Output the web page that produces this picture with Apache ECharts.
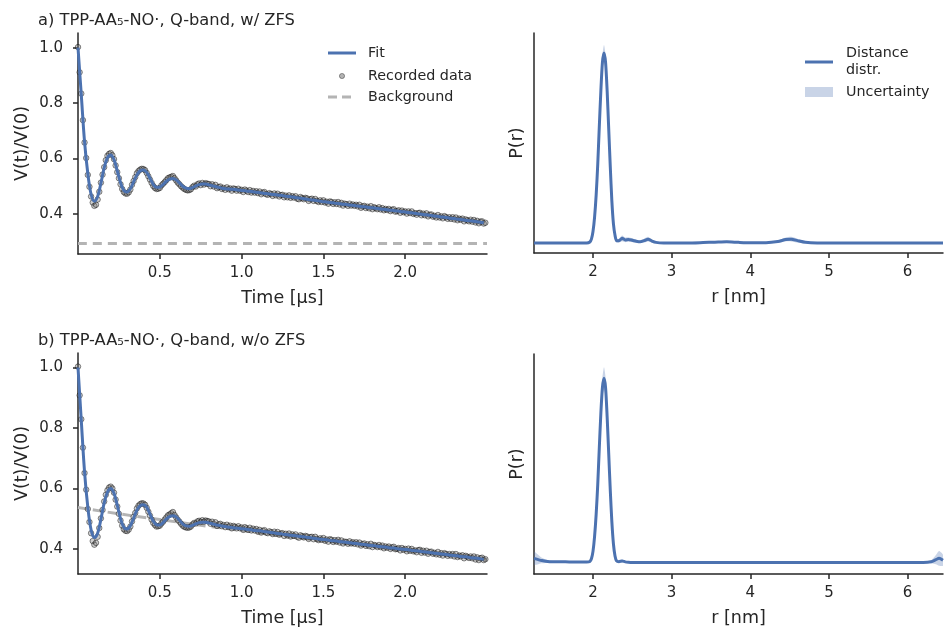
<!DOCTYPE html>
<html>
<head>
<meta charset="utf-8">
<script src="https://cdn.jsdelivr.net/npm/echarts@6/dist/echarts.min.js"></script>
<style>html,body{margin:0;padding:0;background:#fff}#c{width:944px;height:630px}</style>
</head>
<body>
<div id="c"></div>
<script>
// ---------- data ----------
const titles = ['a) TPP-AA\u2085-NO\u00b7, Q-band, w/ ZFS', 'b) TPP-AA\u2085-NO\u00b7, Q-band, w/o ZFS'];
const timeTicks = [0.5, 1.0, 1.5, 2.0];
const vTicks = [0.4, 0.6, 0.8, 1.0];
const rTicks = [2, 3, 4, 5, 6];

// recorded time grid (µs)
const tData = [
0.00,0.01,0.02,0.03,0.04,0.05,0.06,0.07,0.08,0.09,
0.10,0.11,0.12,0.13,0.14,0.15,0.16,0.17,0.18,0.19,
0.20,0.21,0.22,0.23,0.24,0.25,0.26,0.27,0.28,0.29,
0.30,0.31,0.32,0.33,0.34,0.35,0.36,0.37,0.38,0.39,
0.40,0.41,0.42,0.43,0.44,0.45,0.46,0.47,0.48,0.49,
0.50,0.51,0.52,0.53,0.54,0.55,0.56,0.57,0.58,0.59,
0.60,0.61,0.62,0.63,0.64,0.65,0.66,0.67,0.68,0.69,
0.70,0.71,0.72,0.73,0.74,0.75,0.76,0.77,0.78,0.79,
0.80,0.81,0.82,0.83,0.84,0.85,0.86,0.87,0.88,0.89,
0.90,0.91,0.92,0.93,0.94,0.95,0.96,0.97,0.98,0.99,
1.00,1.01,1.02,1.03,1.04,1.05,1.06,1.07,1.08,1.09,
1.10,1.11,1.12,1.13,1.14,1.15,1.16,1.17,1.18,1.19,
1.20,1.21,1.22,1.23,1.24,1.25,1.26,1.27,1.28,1.29,
1.30,1.31,1.32,1.33,1.34,1.35,1.36,1.37,1.38,1.39,
1.40,1.41,1.42,1.43,1.44,1.45,1.46,1.47,1.48,1.49,
1.50,1.51,1.52,1.53,1.54,1.55,1.56,1.57,1.58,1.59,
1.60,1.61,1.62,1.63,1.64,1.65,1.66,1.67,1.68,1.69,
1.70,1.71,1.72,1.73,1.74,1.75,1.76,1.77,1.78,1.79,
1.80,1.81,1.82,1.83,1.84,1.85,1.86,1.87,1.88,1.89,
1.90,1.91,1.92,1.93,1.94,1.95,1.96,1.97,1.98,1.99,
2.00,2.01,2.02,2.03,2.04,2.05,2.06,2.07,2.08,2.09,
2.10,2.11,2.12,2.13,2.14,2.15,2.16,2.17,2.18,2.19,
2.20,2.21,2.22,2.23,2.24,2.25,2.26,2.27,2.28,2.29,
2.30,2.31,2.32,2.33,2.34,2.35,2.36,2.37,2.38,2.39,
2.40,2.41,2.42,2.43,2.44,2.45,2.46,2.47,2.48,2.49];

const dataA = [
1.002,0.911,0.834,0.738,0.657,0.601,0.540,0.497,0.462,0.440,
0.428,0.432,0.451,0.479,0.512,0.541,0.568,0.593,0.609,0.616,
0.619,0.611,0.597,0.574,0.550,0.528,0.506,0.489,0.478,0.473,
0.472,0.477,0.487,0.504,0.518,0.532,0.546,0.554,0.559,0.562,
0.561,0.557,0.547,0.535,0.523,0.511,0.500,0.493,0.489,0.490,
0.493,0.502,0.508,0.514,0.521,0.528,0.531,0.533,0.536,0.528,
0.520,0.512,0.506,0.499,0.494,0.489,0.486,0.484,0.485,0.488,
0.496,0.501,0.498,0.506,0.509,0.503,0.511,0.505,0.510,0.508,
0.507,0.499,0.506,0.498,0.504,0.492,0.496,0.498,0.489,0.493,
0.486,0.495,0.488,0.491,0.483,0.491,0.489,0.483,0.490,0.483,
0.486,0.478,0.487,0.483,0.478,0.485,0.476,0.482,0.476,0.481,
0.474,0.480,0.470,0.476,0.478,0.470,0.468,0.474,0.471,0.464,
0.473,0.466,0.472,0.462,0.467,0.468,0.459,0.465,0.459,0.466,
0.457,0.463,0.458,0.463,0.454,0.452,0.460,0.456,0.452,0.457,
0.455,0.446,0.452,0.454,0.446,0.453,0.446,0.442,0.448,0.442,
0.448,0.440,0.443,0.436,0.444,0.442,0.435,0.441,0.435,0.442,
0.433,0.439,0.429,0.436,0.434,0.428,0.436,0.429,0.433,0.428,
0.432,0.426,0.432,0.421,0.426,0.428,0.420,0.425,0.419,0.427,
0.416,0.423,0.420,0.416,0.423,0.415,0.420,0.412,0.417,0.413,
0.417,0.409,0.414,0.416,0.407,0.409,0.412,0.403,0.411,0.405,
0.408,0.400,0.408,0.402,0.408,0.399,0.402,0.396,0.402,0.403,
0.394,0.400,0.394,0.401,0.390,0.396,0.397,0.389,0.392,0.386,
0.395,0.386,0.390,0.383,0.391,0.387,0.381,0.387,0.381,0.387,
0.379,0.386,0.376,0.382,0.378,0.382,0.372,0.379,0.376,0.372,
0.378,0.371,0.377,0.368,0.374,0.365,0.371,0.372,0.364,0.367];

const dataB = [
1.003,0.908,0.829,0.735,0.651,0.596,0.532,0.489,0.452,0.426,
0.414,0.420,0.440,0.469,0.501,0.529,0.557,0.579,0.594,0.603,
0.606,0.600,0.586,0.563,0.540,0.516,0.494,0.477,0.465,0.460,
0.459,0.464,0.474,0.491,0.506,0.519,0.534,0.543,0.548,0.551,
0.550,0.546,0.536,0.523,0.510,0.497,0.486,0.479,0.474,0.475,
0.477,0.484,0.490,0.497,0.504,0.511,0.514,0.518,0.522,0.512,
0.504,0.496,0.490,0.483,0.477,0.473,0.471,0.470,0.471,0.474,
0.481,0.486,0.484,0.491,0.493,0.489,0.495,0.490,0.494,0.492,
0.491,0.483,0.490,0.482,0.488,0.476,0.481,0.483,0.475,0.479,
0.472,0.480,0.473,0.477,0.468,0.476,0.473,0.468,0.475,0.468,
0.471,0.463,0.472,0.468,0.463,0.470,0.461,0.467,0.461,0.466,
0.457,0.463,0.454,0.460,0.462,0.454,0.452,0.458,0.455,0.449,
0.457,0.450,0.456,0.447,0.451,0.452,0.443,0.450,0.444,0.451,
0.441,0.448,0.443,0.448,0.440,0.437,0.445,0.442,0.438,0.443,
0.441,0.433,0.439,0.440,0.432,0.440,0.433,0.429,0.435,0.430,
0.436,0.427,0.431,0.424,0.432,0.430,0.423,0.429,0.424,0.430,
0.421,0.428,0.418,0.424,0.423,0.417,0.425,0.418,0.422,0.417,
0.422,0.415,0.421,0.411,0.416,0.418,0.410,0.415,0.409,0.417,
0.406,0.413,0.411,0.406,0.413,0.406,0.411,0.402,0.408,0.404,
0.408,0.400,0.405,0.407,0.399,0.400,0.403,0.395,0.403,0.397,
0.400,0.392,0.401,0.394,0.400,0.392,0.395,0.389,0.396,0.397,
0.387,0.394,0.388,0.394,0.384,0.390,0.391,0.384,0.387,0.382,
0.390,0.381,0.386,0.378,0.386,0.383,0.377,0.383,0.378,0.383,
0.375,0.383,0.373,0.378,0.375,0.379,0.369,0.377,0.374,0.370,
0.375,0.369,0.375,0.365,0.372,0.363,0.369,0.371,0.363,0.366];

// fitted traces (µs grid of the fit)
const tFit = [
0.00,0.02,0.04,0.06,0.08,0.10,0.12,0.14,0.16,0.18,
0.20,0.22,0.24,0.26,0.28,0.30,0.32,0.34,0.36,0.38,
0.40,0.42,0.44,0.46,0.48,0.50,0.52,0.54,0.56,0.58,
0.60,0.62,0.64,0.66,0.68,0.70,0.72,0.74,0.76,0.78,
0.80,0.82,0.84,0.86,0.88,0.90,0.92,0.94,0.96,0.98,
1.00,1.02,1.04,1.06,1.08,1.10,1.12,1.14,1.16,1.18,
1.20,1.22,1.24,1.26,1.28,1.30,1.32,1.34,1.36,1.38,
1.40,1.42,1.44,1.46,1.48,1.50,1.52,1.54,1.56,1.58,
1.60,1.62,1.64,1.66,1.68,1.70,1.72,1.74,1.76,1.78,
1.80,1.82,1.84,1.86,1.88,1.90,1.92,1.94,1.96,1.98,
2.00,2.02,2.04,2.06,2.08,2.10,2.12,2.14,2.16,2.18,
2.20,2.22,2.24,2.26,2.28,2.30,2.32,2.34,2.36,2.38,
2.40,2.42,2.44,2.46,2.48];

const fitA = [
1.000,0.830,0.660,0.545,0.470,0.445,0.462,0.510,0.565,0.602,
0.612,0.595,0.555,0.512,0.484,0.478,0.490,0.515,0.540,0.555,
0.558,0.549,0.528,0.506,0.495,0.496,0.505,0.517,0.525,0.527,
0.522,0.511,0.499,0.492,0.490,0.494,0.500,0.505,0.507,0.507,
0.504,0.501,0.498,0.495,0.492,0.490,0.489,0.488,0.487,0.485,
0.484,0.483,0.481,0.480,0.478,0.477,0.475,0.473,0.472,0.470,
0.469,0.467,0.466,0.464,0.462,0.461,0.459,0.457,0.456,0.454,
0.452,0.450,0.449,0.447,0.445,0.443,0.442,0.440,0.439,0.437,
0.436,0.434,0.433,0.431,0.430,0.428,0.427,0.425,0.424,0.422,
0.421,0.419,0.418,0.416,0.415,0.413,0.412,0.410,0.409,0.407,
0.406,0.404,0.403,0.401,0.399,0.398,0.396,0.395,0.393,0.391,
0.390,0.388,0.387,0.385,0.383,0.382,0.380,0.379,0.377,0.375,
0.374,0.372,0.371,0.369,0.367];

const fitB = [
1.000,0.825,0.655,0.538,0.463,0.438,0.452,0.498,0.552,0.588,
0.600,0.584,0.545,0.500,0.472,0.466,0.477,0.502,0.528,0.543,
0.546,0.538,0.515,0.492,0.480,0.479,0.487,0.499,0.507,0.510,
0.506,0.495,0.483,0.476,0.475,0.478,0.483,0.487,0.488,0.488,
0.486,0.483,0.480,0.478,0.476,0.474,0.472,0.471,0.469,0.468,
0.467,0.466,0.464,0.463,0.461,0.460,0.459,0.457,0.456,0.454,
0.453,0.451,0.450,0.448,0.447,0.445,0.444,0.443,0.441,0.440,
0.438,0.437,0.435,0.434,0.432,0.431,0.430,0.428,0.427,0.426,
0.424,0.423,0.422,0.420,0.419,0.418,0.416,0.415,0.414,0.412,
0.411,0.410,0.408,0.407,0.406,0.404,0.403,0.402,0.400,0.399,
0.398,0.397,0.395,0.394,0.393,0.391,0.390,0.389,0.387,0.386,
0.385,0.383,0.382,0.381,0.379,0.378,0.377,0.375,0.374,0.373,
0.371,0.370,0.369,0.367,0.366];

const tBgA = [0.0, 2.5];
const bgA = [0.292, 0.292];
const tBgB = [0.0,0.25,0.5,0.75,1.0,1.25,1.5,1.75,2.0,2.25,2.5];
const bgB = [0.537,0.516,0.497,0.478,0.461,0.443,0.427,0.411,0.395,0.380,0.365];

const rNm = [
1.25,1.35,1.45,1.55,1.65,1.75,1.85,1.92,
1.96,1.98,2.00,2.02,2.04,2.06,2.08,2.10,2.12,2.14,
2.16,2.18,2.20,2.22,2.24,2.26,2.28,2.30,
2.33,2.37,2.41,2.45,2.50,2.55,2.60,2.65,2.70,2.75,2.80,2.90,
3.00,3.20,3.40,3.55,3.70,3.85,4.00,4.20,4.35,4.45,4.52,4.60,4.70,4.85,
5.00,5.25,5.50,5.75,6.00,6.20,6.30,6.36,6.40,6.45];

const pA = [
0,0,0,0,0,0,0,0,
0.005,0.02,0.06,0.135,0.25,0.41,0.61,0.80,0.95,1.00,
0.95,0.80,0.60,0.40,0.22,0.10,0.04,0.012,
0.012,0.024,0.016,0.018,0.014,0.009,0.006,0.012,0.020,0.010,0.003,0,
0,0,0.002,0.004,0.006,0.003,0.001,0.001,0.007,0.018,0.020,0.012,0.003,0,
0,0,0,0,0,0,0,0,0,0];

const uA = [
0.003,0.003,0.003,0.003,0.003,0.003,0.003,0.003,
0.004,0.006,0.010,0.015,0.020,0.025,0.030,0.035,0.040,0.042,
0.040,0.035,0.030,0.025,0.020,0.015,0.010,0.008,
0.010,0.015,0.012,0.012,0.010,0.008,0.006,0.010,0.012,0.008,0.004,0.003,
0.003,0.003,0.003,0.005,0.006,0.004,0.003,0.003,0.006,0.010,0.012,0.010,0.005,0.003,
0.003,0.003,0.003,0.003,0.003,0.003,0.003,0.003,0.003,0.003];

const pB = [
0.022,0.010,0.004,0.003,0.003,0.002,0.002,0.002,
0.005,0.02,0.06,0.14,0.26,0.42,0.62,0.81,0.95,1.00,
0.95,0.79,0.59,0.39,0.22,0.10,0.035,0.008,
0.004,0.008,0.003,0.001,0,0,0,0,0,0,0,0,
0,0,0,0,0,0,0,0,0,0,0,0,0,0,
0,0,0,0,0,0,0.004,0.015,0.022,0.012];

const uB = [
0.035,0.015,0.006,0.003,0.003,0.003,0.003,0.003,
0.005,0.008,0.012,0.018,0.025,0.032,0.040,0.048,0.055,0.060,
0.055,0.048,0.040,0.032,0.025,0.018,0.012,0.006,
0.005,0.008,0.004,0.003,0.003,0.003,0.003,0.003,0.003,0.003,0.003,0.003,
0.003,0.003,0.003,0.003,0.003,0.003,0.003,0.003,0.003,0.003,0.003,0.003,0.003,0.003,
0.003,0.003,0.003,0.003,0.003,0.003,0.008,0.025,0.040,0.030];

// ---------- styling ----------
const INK = '#262626';
const BLUE = '#4C72B0';
const BAND = 'rgba(76,114,176,0.3)';
const BGCOL = '#b4b4b4';
const FONT = 'DejaVu Sans';
const DOT_FILL = 'rgba(120,120,120,0.45)';
const DOT_EDGE = 'rgba(0,0,0,0.7)';
const LEG_FONT = '14.3px "DejaVu Sans"';

const pairs = (xs, ys) => xs.map((x, i) => [x, ys[i]]);

function timeAxis(g) {
  return {
    type: 'value', gridIndex: g, min: 0, max: 2.5,
    name: 'Time [\u00b5s]', nameLocation: 'middle', nameGap: 35,
    nameTextStyle: {color: INK, fontSize: 17.5, fontFamily: FONT},
    axisLine: {show: true, onZero: false, lineStyle: {color: INK, width: 1.5}},
    axisTick: {show: true, length: 5, customValues: timeTicks, lineStyle: {color: INK, width: 1.5}},
    axisLabel: {customValues: timeTicks, color: INK, fontSize: 15, fontFamily: FONT, margin: 12,
      formatter: v => v.toFixed(1)},
    splitLine: {show: false}
  };
}
function vAxis(g, mn, mx) {
  return {
    type: 'value', gridIndex: g, min: mn, max: mx,
    name: 'V(t)/V(0)', nameLocation: 'middle', nameGap: 47,
    nameTextStyle: {color: INK, fontSize: 17.5, fontFamily: FONT},
    axisLine: {show: true, onZero: false, lineStyle: {color: INK, width: 1.5}},
    axisTick: {show: true, length: 5, customValues: vTicks, lineStyle: {color: INK, width: 1.5}},
    axisLabel: {customValues: vTicks, color: INK, fontSize: 15, fontFamily: FONT, margin: 15,
      formatter: v => v.toFixed(1)},
    splitLine: {show: false}
  };
}
function rAxis(g) {
  return {
    type: 'value', gridIndex: g, min: 1.25, max: 6.45,
    name: 'r [nm]', nameLocation: 'middle', nameGap: 35,
    nameTextStyle: {color: INK, fontSize: 17.5, fontFamily: FONT},
    axisLine: {show: true, onZero: false, lineStyle: {color: INK, width: 1.5}},
    axisTick: {show: true, length: 5, customValues: rTicks, lineStyle: {color: INK, width: 1.5}},
    axisLabel: {customValues: rTicks, color: INK, fontSize: 15, fontFamily: FONT, margin: 12,
      formatter: v => String(v)},
    splitLine: {show: false}
  };
}
function pAxis(g, mn, mx) {
  return {
    type: 'value', gridIndex: g, min: mn, max: mx,
    name: 'P(r)', nameLocation: 'middle', nameGap: 8,
    nameTextStyle: {color: INK, fontSize: 17.5, fontFamily: FONT},
    axisLine: {show: true, onZero: false, lineStyle: {color: INK, width: 1.5}},
    axisTick: {show: false}, axisLabel: {show: false}, splitLine: {show: false}
  };
}

function traceSeries(g, bgT, bg, data, fit) {
  return [
    {type: 'line', xAxisIndex: g, yAxisIndex: g, data: pairs(bgT, bg), showSymbol: false, symbol: 'none',
      smooth: 0.3, z: 1, silent: true, lineStyle: {color: BGCOL, width: 3, type: [9, 6]}},
    {type: 'scatter', xAxisIndex: g, yAxisIndex: g, data: pairs(tData, data), symbolSize: 5.5, z: 2, silent: true,
      itemStyle: {color: DOT_FILL, borderColor: DOT_EDGE, borderWidth: 0.8}},
    {type: 'line', xAxisIndex: g, yAxisIndex: g, data: pairs(tFit, fit), showSymbol: false, symbol: 'none',
      smooth: 0.35, z: 3, silent: true, lineStyle: {color: BLUE, width: 3}}
  ];
}
function distSeries(g, P, U) {
  return [
    {type: 'custom', xAxisIndex: g, yAxisIndex: g, silent: true, z: 1, clip: true,
      data: [[rNm[0], P[0]]],
      renderItem: (params, api) => {
        const pts = [];
        for (let i = 0; i < rNm.length; i++) pts.push(api.coord([rNm[i], P[i] + U[i]]));
        for (let i = rNm.length - 1; i >= 0; i--) pts.push(api.coord([rNm[i], P[i] - U[i]]));
        return {type: 'polygon', shape: {points: pts, smooth: 0.2}, style: {fill: BAND}};
      }},
    {type: 'line', xAxisIndex: g, yAxisIndex: g, data: pairs(rNm, P), showSymbol: false, symbol: 'none',
      smooth: 0.25, z: 3, silent: true, lineStyle: {color: BLUE, width: 3, join: 'round'}}
  ];
}

const chart = echarts.init(document.getElementById('c'), null, {renderer: 'canvas'});
chart.setOption({
  animation: false,
  backgroundColor: '#ffffff',
  textStyle: {fontFamily: FONT},
  title: [
    {text: titles[0], left: 38, top: 13, padding: 0, textStyle: {color: INK, fontSize: 16.3, fontWeight: 'normal', fontFamily: FONT}},
    {text: titles[1], left: 38, top: 333, padding: 0, textStyle: {color: INK, fontSize: 16.3, fontWeight: 'normal', fontFamily: FONT}}
  ],
  grid: [
    {left: 78, top: 33, width: 409, height: 221},
    {left: 534, top: 33, width: 409, height: 220},
    {left: 78, top: 353, width: 409, height: 221},
    {left: 534, top: 354, width: 409, height: 220}
  ],
  xAxis: [timeAxis(0), rAxis(1), timeAxis(2), rAxis(3)],
  yAxis: [vAxis(0, 0.254, 1.053), pAxis(1, -0.053, 1.105), vAxis(2, 0.317, 1.048), pAxis(3, -0.063, 1.132)],
  series: [
    ...traceSeries(0, tBgA, bgA, dataA, fitA),
    ...distSeries(1, pA, uA),
    ...traceSeries(2, tBgB, bgB, dataB, fitB),
    ...distSeries(3, pB, uB)
  ],
  graphic: [
    {type: 'line', shape: {x1: 328, y1: 53, x2: 356, y2: 53}, style: {stroke: BLUE, lineWidth: 3}},
    {type: 'circle', shape: {cx: 342, cy: 76, r: 2.6}, style: {fill: 'rgba(128,128,128,0.6)', stroke: 'rgba(0,0,0,0.5)', lineWidth: 0.7}},
    {type: 'line', shape: {x1: 328, y1: 97, x2: 356, y2: 97}, style: {stroke: BGCOL, lineWidth: 3, lineDash: [9, 5]}},
    {type: 'text', x: 368, y: 53, style: {text: 'Fit', fill: INK, font: LEG_FONT, verticalAlign: 'middle'}},
    {type: 'text', x: 368, y: 76, style: {text: 'Recorded data', fill: INK, font: LEG_FONT, verticalAlign: 'middle'}},
    {type: 'text', x: 368, y: 97, style: {text: 'Background', fill: INK, font: LEG_FONT, verticalAlign: 'middle'}},
    {type: 'line', shape: {x1: 805, y1: 62, x2: 833, y2: 62}, style: {stroke: BLUE, lineWidth: 3}},
    {type: 'rect', shape: {x: 805, y: 87, width: 28, height: 10}, style: {fill: BAND}},
    {type: 'text', x: 846, y: 53, style: {text: 'Distance', fill: INK, font: LEG_FONT, verticalAlign: 'middle'}},
    {type: 'text', x: 846, y: 70, style: {text: 'distr.', fill: INK, font: LEG_FONT, verticalAlign: 'middle'}},
    {type: 'text', x: 846, y: 92, style: {text: 'Uncertainty', fill: INK, font: LEG_FONT, verticalAlign: 'middle'}}
  ]
});
</script>
</body>
</html>
